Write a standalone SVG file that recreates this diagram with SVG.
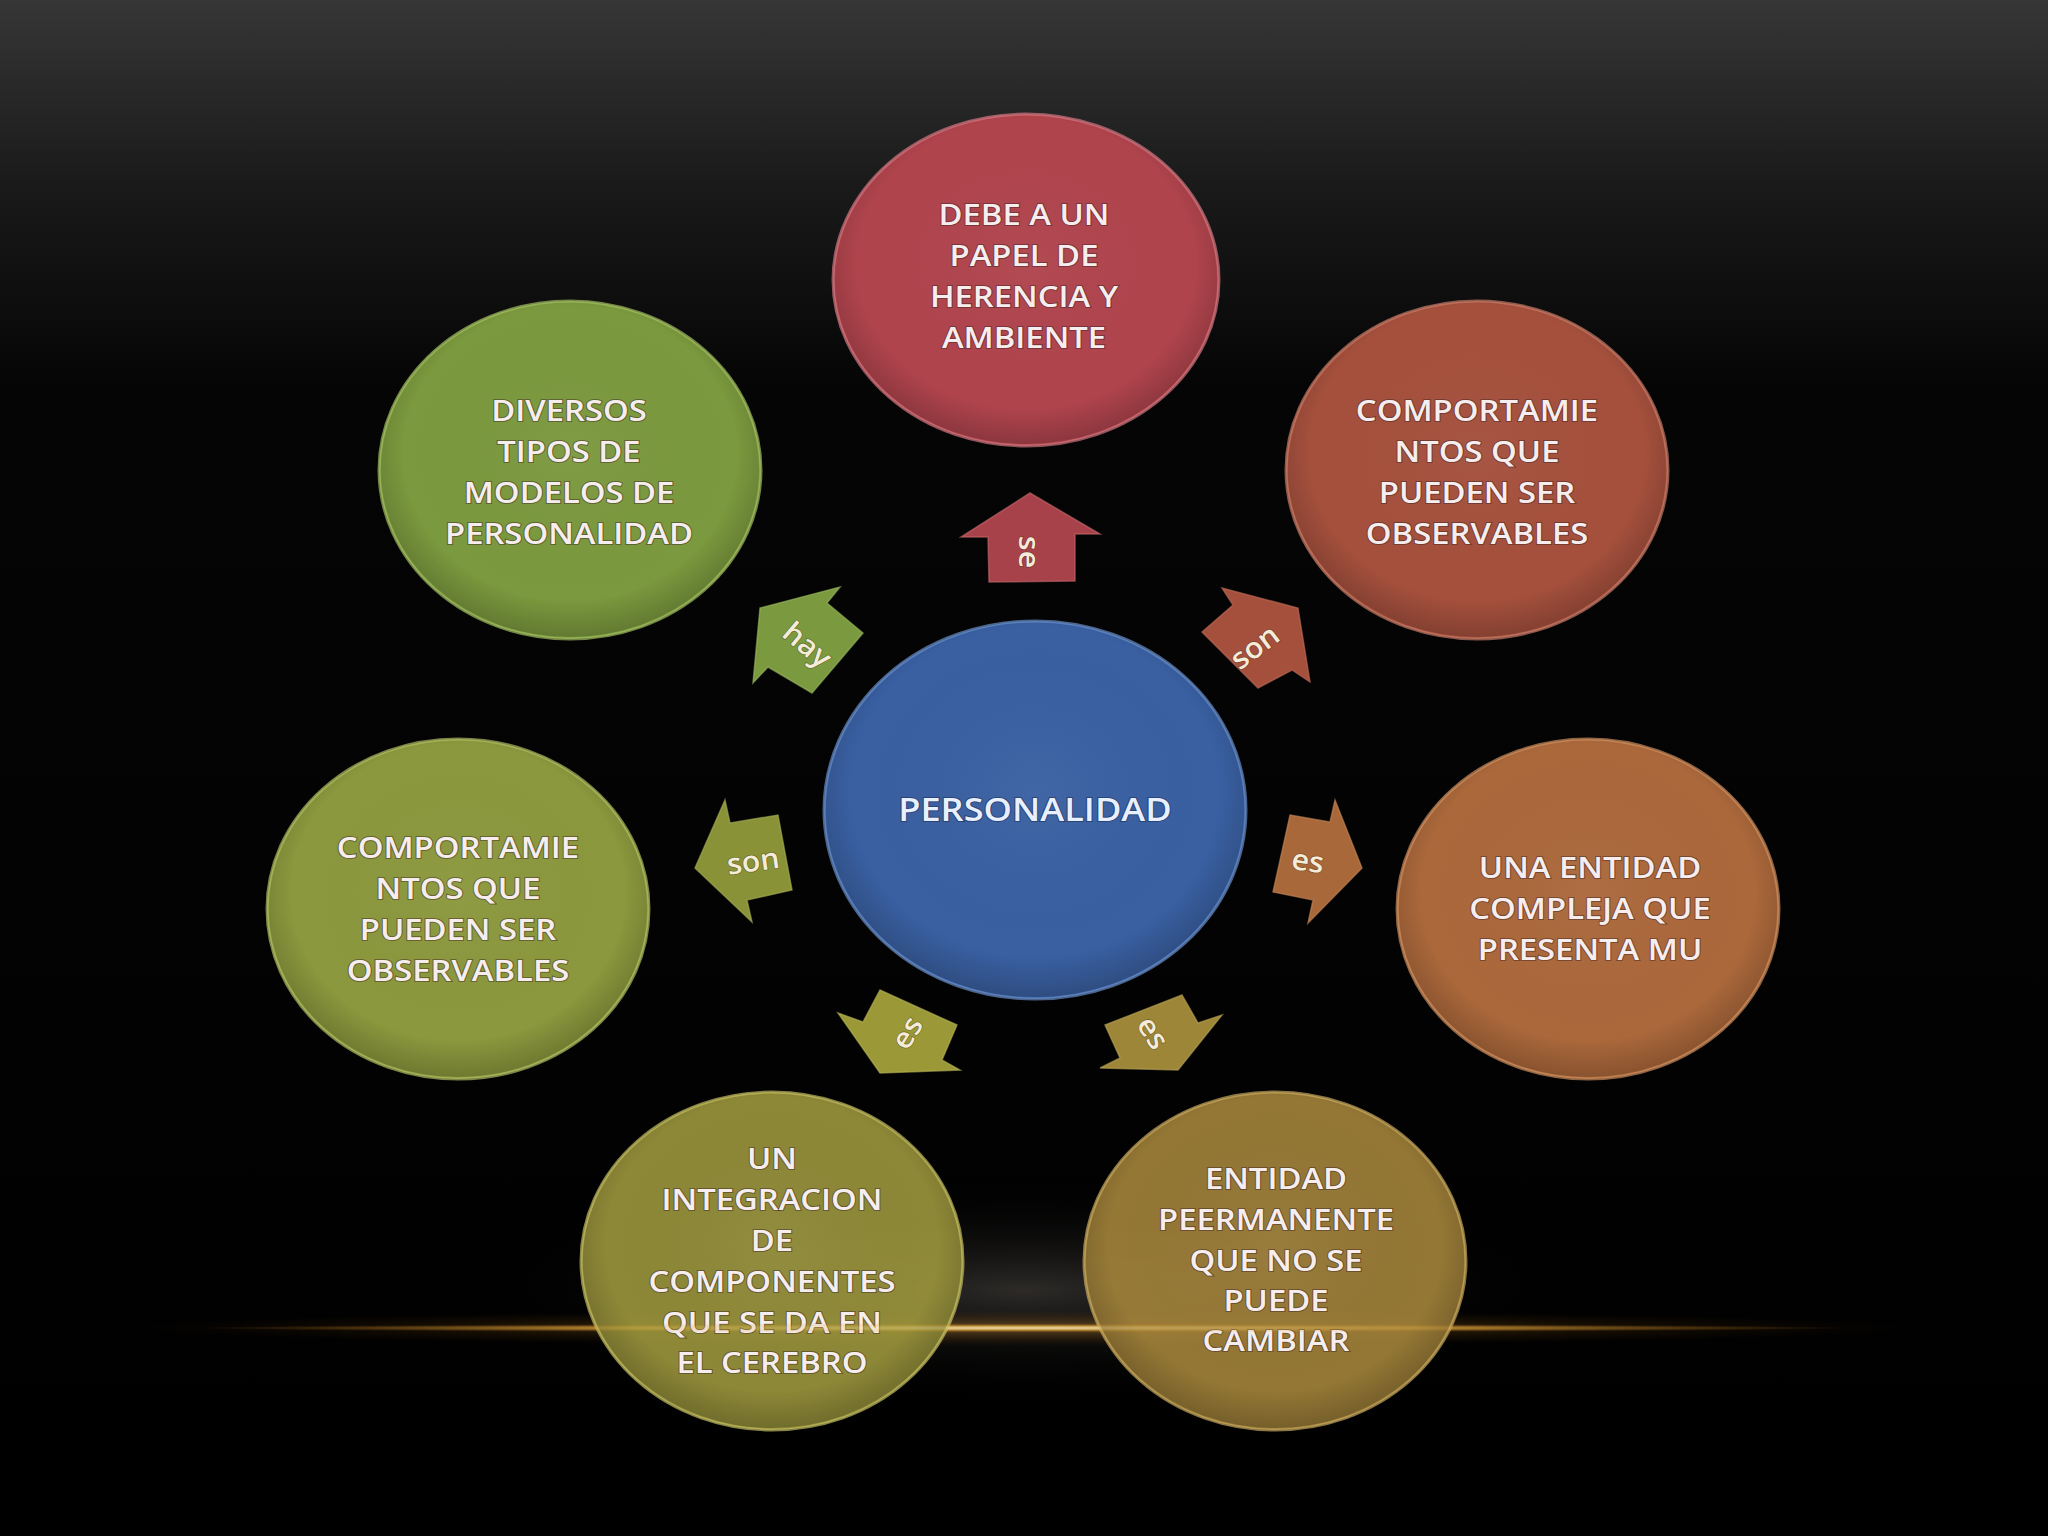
<svg xmlns="http://www.w3.org/2000/svg" width="2048" height="1536" viewBox="0 0 2048 1536">
<defs>
<linearGradient id="bg" x1="0" y1="0" x2="0" y2="1">
<stop offset="0" stop-color="#363636"/>
<stop offset="0.12" stop-color="#1a1a1a"/>
<stop offset="0.25" stop-color="#050505"/>
<stop offset="1" stop-color="#000"/>
</linearGradient>
<radialGradient id="haze" cx="0.5" cy="0.5" r="0.5">
<stop offset="0" stop-color="#5a5550" stop-opacity="0.5"/>
<stop offset="1" stop-color="#000" stop-opacity="0"/>
</radialGradient>
<radialGradient id="line" cx="0.5" cy="0.5" r="0.5">
<stop offset="0" stop-color="#fff2c0" stop-opacity="1"/>
<stop offset="0.5" stop-color="#e0a840" stop-opacity="0.8"/>
<stop offset="1" stop-color="#a06010" stop-opacity="0"/>
</radialGradient>
<radialGradient id="lineglow" cx="0.5" cy="0.5" r="0.5">
<stop offset="0" stop-color="#c08a30" stop-opacity="0.45"/>
<stop offset="1" stop-color="#603000" stop-opacity="0"/>
</radialGradient>
<radialGradient id="shade" cx="0.5" cy="0.45" r="0.55">
<stop offset="0" stop-color="#fff" stop-opacity="0.04"/>
<stop offset="0.8" stop-color="#000" stop-opacity="0"/>
<stop offset="1" stop-color="#000" stop-opacity="0.2"/>
</radialGradient>
</defs>
<style>
.node ellipse.b{stroke-width:3;stroke-opacity:0.7}
.node ellipse.s{fill:url(#shade);stroke:none}
.t{font-family:"Open Sans","Liberation Sans",sans-serif;font-weight:600;font-size:29px;fill:#f6eeee;text-anchor:middle;stroke:#3a2020;stroke-opacity:0.45;stroke-width:2;paint-order:stroke}
.big{font-size:32px;fill:#e8f0ff;stroke:#102040}
.lab{font-family:"Open Sans","Liberation Sans",sans-serif;font-weight:600;font-size:29px;fill:#f4ecd8;text-anchor:middle;dominant-baseline:central;stroke:#302010;stroke-opacity:0.35;stroke-width:1.5;paint-order:stroke}
.arr{stroke-width:1.5;stroke-opacity:0.6}
.bot{fill-opacity:0.9}
</style>
<rect x="0" y="0" width="2048" height="1536" fill="url(#bg)"/>
<ellipse cx="1024" cy="1290" rx="560" ry="110" fill="url(#haze)"/>
<ellipse cx="1024" cy="1328" rx="900" ry="18" fill="url(#lineglow)"/>
<ellipse cx="1024" cy="1328" rx="830" ry="4" fill="url(#line)" opacity="0.85"/>

<g id="connectors">
<g id="c-se">
<polygon class="arr" points="1030,493 1100,534 1075,534 1075,581 989,582 988,537 961,537" fill="#a8424a" stroke="#c86a70"/>
<text class="lab" transform="translate(1030,552) rotate(90) scale(1.05,1)">se</text>
</g>
<g id="c-hay">
<polygon class="arr" points="760,608 840,587 827,603 863,633 812,693 768,667 753,683" fill="#7b9a40" stroke="#9cba60"/>
<text class="lab" transform="translate(808,644) rotate(40) scale(1.05,1)">hay</text>
</g>
<g id="c-son1">
<polygon class="arr" points="1202,632 1233,605 1222,588 1298,608 1310,682 1292,670 1258,688" fill="#a5503c" stroke="#c5705c"/>
<text class="lab" transform="translate(1254,646) rotate(-37) scale(1.05,1)">son</text>
</g>
<g id="c-es1">
<polygon class="arr" points="1290,815 1330,822 1335,800 1362,868 1308,923 1313,900 1273,892" fill="#a8683a" stroke="#c8885a"/>
<text class="lab" transform="translate(1308,860) rotate(8) scale(1.05,1)">es</text>
</g>
<g id="c-es2">
<polygon class="arr" points="1105,1025 1182,995 1198,1023 1222,1015 1178,1070 1100,1068 1120,1058" fill="#9d8638" stroke="#bda658"/>
<text class="lab" transform="translate(1154,1032) rotate(57) scale(1.05,1)">es</text>
</g>
<g id="c-es3">
<polygon class="arr" points="838,1013 863,1022 880,990 957,1025 942,1060 960,1070 880,1073" fill="#9b9838" stroke="#bbb858"/>
<text class="lab" transform="translate(906,1032) rotate(-58) scale(1.05,1)">es</text>
</g>
<g id="c-son2">
<polygon class="arr" points="695,868 725,800 730,823 778,815 792,890 747,900 752,922" fill="#8a9238" stroke="#aab258"/>
<text class="lab" transform="translate(753,860) rotate(-8) scale(1.05,1)">son</text>
</g>
</g>

<g id="n-center" class="node">
<ellipse class="b" cx="1035" cy="810" rx="211" ry="189" fill="#3a60a2" stroke="#6a8fc6"/>
<ellipse class="s" cx="1035" cy="810" rx="209" ry="187"/>
<text class="t big" transform="matrix(1.13 0 0 1 1035 0)"><tspan x="0" y="821">PERSONALIDAD</tspan></text>
</g>

<g id="n-top" class="node">
<ellipse class="b" cx="1026" cy="280" rx="193" ry="166" fill="#b0444d" stroke="#d07880"/>
<ellipse class="s" cx="1026" cy="280" rx="191" ry="164"/>
<text class="t" transform="matrix(1.13 0 0 1 1024 0)"><tspan x="0" y="225">DEBE A UN</tspan><tspan x="0" y="266">PAPEL DE</tspan><tspan x="0" y="307">HERENCIA Y</tspan><tspan x="0" y="348">AMBIENTE</tspan></text>
</g>

<g id="n-topright" class="node">
<ellipse class="b" cx="1477" cy="470" rx="191" ry="169" fill="#a5503d" stroke="#c67c68"/>
<ellipse class="s" cx="1477" cy="470" rx="189" ry="167"/>
<text class="t" transform="matrix(1.13 0 0 1 1477 0)"><tspan x="0" y="421">COMPORTAMIE</tspan><tspan x="0" y="462">NTOS QUE</tspan><tspan x="0" y="503">PUEDEN SER</tspan><tspan x="0" y="544">OBSERVABLES</tspan></text>
</g>

<g id="n-right" class="node">
<ellipse class="b" cx="1588" cy="909" rx="191" ry="170" fill="#ab683b" stroke="#cc8e60"/>
<ellipse class="s" cx="1588" cy="909" rx="189" ry="168"/>
<text class="t" transform="matrix(1.13 0 0 1 1590 0)"><tspan x="0" y="878">UNA ENTIDAD</tspan><tspan x="0" y="919">COMPLEJA QUE</tspan><tspan x="0" y="960">PRESENTA MU</tspan></text>
</g>

<g id="n-bottomright" class="node">
<ellipse class="b bot" cx="1275" cy="1261" rx="191" ry="169" fill="#a4843b" stroke="#c6a860"/>
<ellipse class="s" cx="1275" cy="1261" rx="189" ry="167"/>
<text class="t" transform="matrix(1.13 0 0 1 1276 0)"><tspan x="0" y="1189">ENTIDAD</tspan><tspan x="0" y="1230">PEERMANENTE</tspan><tspan x="0" y="1271">QUE NO SE</tspan><tspan x="0" y="1311">PUEDE</tspan><tspan x="0" y="1351">CAMBIAR</tspan></text>
</g>

<g id="n-bottomleft" class="node">
<ellipse class="b bot" cx="772" cy="1261" rx="191" ry="169" fill="#9c973d" stroke="#c2bc62"/>
<ellipse class="s" cx="772" cy="1261" rx="189" ry="167"/>
<text class="t" transform="matrix(1.13 0 0 1 772 0)"><tspan x="0" y="1169">UN</tspan><tspan x="0" y="1210">INTEGRACION</tspan><tspan x="0" y="1251">DE</tspan><tspan x="0" y="1292">COMPONENTES</tspan><tspan x="0" y="1333">QUE SE DA EN</tspan><tspan x="0" y="1373">EL CEREBRO</tspan></text>
</g>

<g id="n-left" class="node">
<ellipse class="b" cx="458" cy="909" rx="191" ry="170" fill="#8b983d" stroke="#b0bc64"/>
<ellipse class="s" cx="458" cy="909" rx="189" ry="168"/>
<text class="t" transform="matrix(1.13 0 0 1 458 0)"><tspan x="0" y="858">COMPORTAMIE</tspan><tspan x="0" y="899">NTOS QUE</tspan><tspan x="0" y="940">PUEDEN SER</tspan><tspan x="0" y="981">OBSERVABLES</tspan></text>
</g>

<g id="n-topleft" class="node">
<ellipse class="b" cx="570" cy="470" rx="191" ry="169" fill="#7b993e" stroke="#a2be62"/>
<ellipse class="s" cx="570" cy="470" rx="189" ry="167"/>
<text class="t" transform="matrix(1.13 0 0 1 569 0)"><tspan x="0" y="421">DIVERSOS</tspan><tspan x="0" y="462">TIPOS DE</tspan><tspan x="0" y="503">MODELOS DE</tspan><tspan x="0" y="544">PERSONALIDAD</tspan></text>
</g>

<ellipse cx="1024" cy="1328" rx="830" ry="5" fill="url(#line)" opacity="0.3"/>
</svg>
